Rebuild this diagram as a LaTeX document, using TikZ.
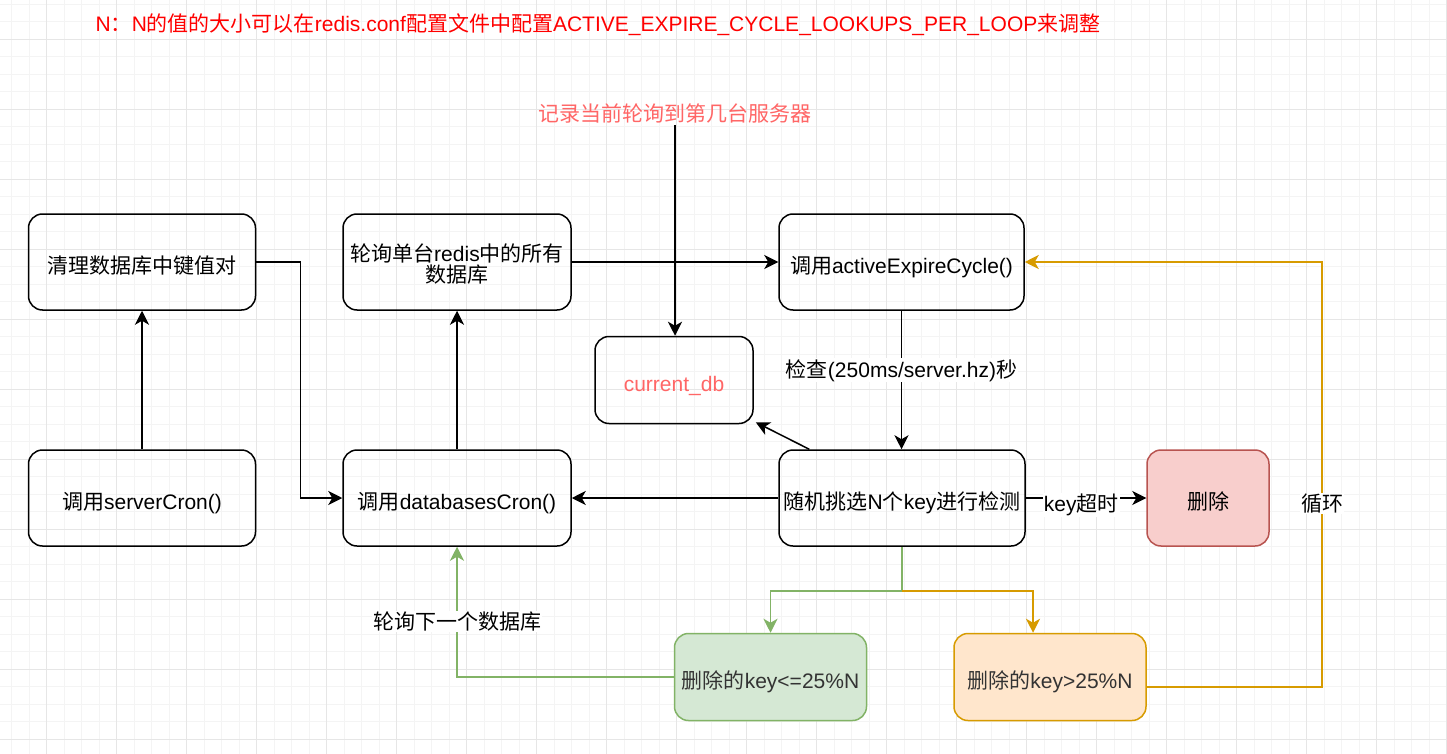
\documentclass[tikz,border=0pt]{standalone}
\usepackage{fontspec}
\setmainfont{Liberation Sans}
\newfontfamily\cjk{Noto Sans CJK SC}
\newcommand\zh[1]{{\cjk #1}}
\usetikzlibrary{arrows.meta}
\definecolor{gminorc}{HTML}{F4F4F4}
\definecolor{gmajorc}{HTML}{E6E6E6}
\definecolor{pinkred}{HTML}{FF6666}
\definecolor{redfill}{HTML}{F8CECC}
\definecolor{redline}{HTML}{B85450}
\definecolor{grnfill}{HTML}{D5E8D4}
\definecolor{grnline}{HTML}{82B366}
\definecolor{orgfill}{HTML}{FFE6CC}
\definecolor{orgline}{HTML}{D79B00}
\definecolor{darktext}{HTML}{333333}
\tikzset{
  txt/.style={font=\fontsize{21pt}{21pt}\selectfont},
  box/.style={draw, line width=1.5pt, rounded corners=14pt, align=center, inner sep=2pt, txt, text height=25pt, text depth=2pt},
  edge/.style={line width=1.5pt, -{Stealth[length=14pt,width=14pt,inset=4pt]}},
  plain/.style={line width=1.5pt},
  lbl/.style={fill=white, inner sep=1pt, txt, text=black},
  gminor/.style={gminorc, line width=0.9pt},
  gmajor/.style={gmajorc, line width=0.9pt},
}
\begin{document}
\begin{tikzpicture}[x=1pt,y=-1pt]
\useasboundingbox (0,0) rectangle (1447,754);
\fill[white] (0,0) rectangle (1447,754);
% grid
\foreach \k in {0,...,82} { \draw[gminor] ({11.5+17.5*\k},0) -- ({11.5+17.5*\k},754); }
\foreach \k in {0,...,43} { \draw[gminor] (0,{4.3+17.5*\k}) -- (1447,{4.3+17.5*\k}); }
\foreach \k in {0,...,20} { \draw[gmajor] ({46.5+70*\k},0) -- ({46.5+70*\k},754); }
\foreach \k in {0,...,10} { \draw[gmajor] (0,{39.3+70*\k}) -- (1447,{39.3+70*\k}); }

% texts
\node[txt, text=red] (top) at (598,25) {N\zh{：}N\zh{的值的大小可以在}redis.conf\zh{配置文件中配置}ACTIVE\_EXPIRE\_CYCLE\_LOOKUPS\_PER\_LOOP\zh{来调整}};
\node[txt, text=pinkred, inner sep=2pt] (rec) at (675,113) {\zh{记录当前轮询到第几台服务器}};

% boxes
\node[box, minimum width=227pt, minimum height=96pt] (A) at (142,262) {\zh{清理数据库中键值对}};
\node[box, minimum width=227pt, minimum height=96pt] (B) at (142,498) {\zh{调用}serverCron()};
\node[box, minimum width=228pt, minimum height=96pt, text height=42pt, text depth=2pt] (C) at (457,262) {\zh{轮询单台}redis\zh{中的所有}\\\zh{数据库}};
\node[box, minimum width=228pt, minimum height=96pt] (D) at (457,498) {\zh{调用}databasesCron()};
\node[box, minimum width=245pt, minimum height=96pt] (E) at (901.5,262) {\zh{调用}activeExpireCycle()};
\node[box, minimum width=158pt, minimum height=87pt, text=pinkred] (F) at (674,380) {current\_db};
\node[box, minimum width=246pt, minimum height=96pt] (G) at (902,498) {\zh{随机挑选}N\zh{个}key\zh{进行检测}};
\node[box, minimum width=122pt, minimum height=96pt, fill=redfill, draw=redline] (H) at (1208,498) {\zh{删除}};
\node[box, minimum width=192pt, minimum height=87pt, fill=grnfill, draw=grnline, text=darktext] (I) at (770.5,677) {\zh{删除的}key<=25\%N};
\node[box, minimum width=192pt, minimum height=87pt, fill=orgfill, draw=orgline, text=darktext] (J) at (1050,677) {\zh{删除的}key>25\%N};

% connectors
\draw[edge] (B) -- (A);
\draw[edge] (A.east) -- ++(44,0) |- (D.west);
\draw[edge] (D) -- (C);
\draw[edge] (C) -- (E);
\draw[edge] (rec.south) -- (rec.south |- F.north);
\draw[edge] (E.south) -- node[lbl, pos=0.43] {\zh{检查}(250ms/server.hz)\zh{秒}} (E.south |- G.north);
\draw[edge] ([xshift=31pt]G.north west) -- ([shift={(2,-2)}]F.south east);
\draw[edge] (G.west) -- (D.east);
\draw[edge] (G.east) -- node[lbl, pos=0.46, yshift=-7pt] {key\zh{超时}} (H.west);
\draw[plain, grnline] (G.south) -- ++(0,44) coordinate (jn);
\draw[edge, orgline] (jn) -| ([xshift=-17pt]J.north);
\draw[edge, grnline] (jn) -| (I.north);
\draw[edge, grnline] (I.west) -| node[lbl, pos=0.714] {\zh{轮询下一个数据库}} (D.south);
\coordinate (lc) at (1322,687);
\draw[edge, orgline] ([yshift=-10pt]J.east) -- (lc) -- node[lbl, pos=0.432] {\zh{循环}} (lc |- E.east) -- (E.east);
\end{tikzpicture}
\end{document}
